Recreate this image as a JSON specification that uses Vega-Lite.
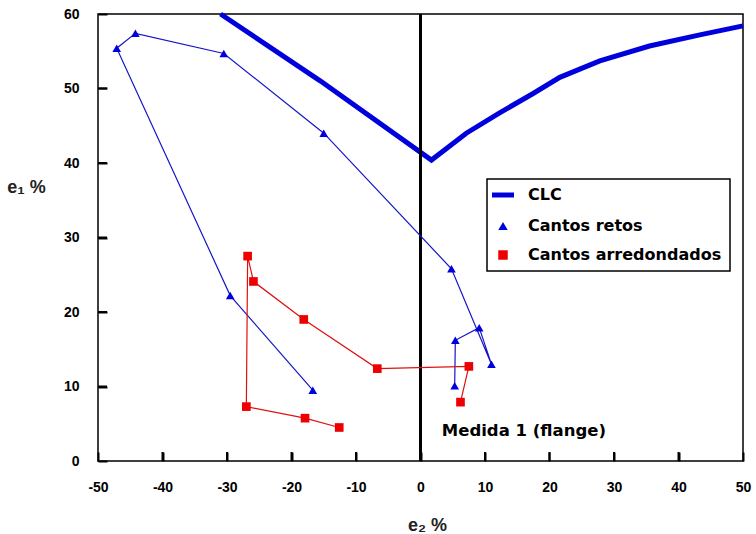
{
  "$schema": "https://vega.github.io/schema/vega-lite/v6.json",
  "width": 645,
  "height": 447,
  "autosize": "none",
  "padding": {"left": 98, "top": 14, "right": 13, "bottom": 73},
  "background": "white",
  "config": {
    "view": {"stroke": "black", "strokeWidth": 1.5},
    "font": "Liberation Sans",
    "legend": {"strokeWidth": 1.5}
  },
  "data": {
    "values": [
      {"series": "Medida 1", "ord": 1, "x": 0, "y": 0},
      {"series": "Medida 1", "ord": 2, "x": 0, "y": 60},
      {"series": "CLC", "ord": 1, "x": -31, "y": 60},
      {"series": "CLC", "ord": 2, "x": -15.5, "y": 51},
      {"series": "CLC", "ord": 3, "x": 1.7, "y": 40.4},
      {"series": "CLC", "ord": 4, "x": 7.1, "y": 44.0},
      {"series": "CLC", "ord": 5, "x": 12.2, "y": 46.7},
      {"series": "CLC", "ord": 6, "x": 17.4, "y": 49.3},
      {"series": "CLC", "ord": 7, "x": 21.6, "y": 51.5},
      {"series": "CLC", "ord": 8, "x": 27.8, "y": 53.7},
      {"series": "CLC", "ord": 9, "x": 35.5, "y": 55.7},
      {"series": "CLC", "ord": 10, "x": 43.3, "y": 57.2},
      {"series": "CLC", "ord": 11, "x": 50, "y": 58.4},
      {"series": "Cantos retos", "ord": 1, "x": -16.7, "y": 9.5},
      {"series": "Cantos retos", "ord": 2, "x": -29.5, "y": 22.2},
      {"series": "Cantos retos", "ord": 3, "x": -47.1, "y": 55.4},
      {"series": "Cantos retos", "ord": 4, "x": -44.2, "y": 57.4},
      {"series": "Cantos retos", "ord": 5, "x": -30.5, "y": 54.7},
      {"series": "Cantos retos", "ord": 6, "x": -15.0, "y": 44.0},
      {"series": "Cantos retos", "ord": 7, "x": 4.8, "y": 25.8},
      {"series": "Cantos retos", "ord": 8, "x": 11.0, "y": 13.0},
      {"series": "Cantos retos", "ord": 9, "x": 9.1, "y": 17.9},
      {"series": "Cantos retos", "ord": 10, "x": 5.4, "y": 16.2},
      {"series": "Cantos retos", "ord": 11, "x": 5.3, "y": 10.1},
      {"series": "Cantos arredondados", "ord": 1, "x": -12.6, "y": 4.5},
      {"series": "Cantos arredondados", "ord": 2, "x": -17.9, "y": 5.75},
      {"series": "Cantos arredondados", "ord": 3, "x": -27.0, "y": 7.3},
      {"series": "Cantos arredondados", "ord": 4, "x": -26.8, "y": 27.5},
      {"series": "Cantos arredondados", "ord": 5, "x": -25.9, "y": 24.1},
      {"series": "Cantos arredondados", "ord": 6, "x": -18.1, "y": 19.0},
      {"series": "Cantos arredondados", "ord": 7, "x": -6.7, "y": 12.4},
      {"series": "Cantos arredondados", "ord": 8, "x": 7.5, "y": 12.7},
      {"series": "Cantos arredondados", "ord": 9, "x": 6.2, "y": 7.9}
    ]
  },
  "encoding": {
    "x": {
      "field": "x",
      "type": "quantitative",
      "scale": {"domain": [-50, 50], "nice": false},
      "axis": {
        "values": [-50, -40, -30, -20, -10, 0, 10, 20, 30, 40, 50],
        "labelExpr": "replace(datum.label, '−', '-')",
        "title": "e₂ %",
        "grid": false,
        "domain": false,
        "zindex": 2,
        "offset": -9,
        "tickSize": 9,
        "tickColor": "#000000",
        "tickWidth": 2,
        "labelPadding": 19,
        "labelFlush": false,
        "labelOverlap": false,
        "labelFont": "Liberation Sans",
        "labelFontWeight": "bold",
        "labelFontSize": 14,
        "labelColor": "black",
        "titleFont": "Liberation Sans",
        "titleFontSize": 18,
        "titleFontWeight": "bold",
        "titleColor": "#222222",
        "titleX": 329,
        "titleY": 78,
        "titleBaseline": "alphabetic"
      }
    },
    "y": {
      "field": "y",
      "type": "quantitative",
      "scale": {"domain": [0, 60], "nice": false},
      "axis": {
        "values": [0, 10, 20, 30, 40, 50, 60],
        "title": "e₁ %",
        "grid": false,
        "domain": false,
        "zindex": 2,
        "offset": -9,
        "tickSize": 9,
        "tickColor": "#000000",
        "tickWidth": 2,
        "labelPadding": 19,
        "labelFlush": false,
        "labelOverlap": false,
        "labelFont": "Liberation Sans",
        "labelFontWeight": "bold",
        "labelFontSize": 14,
        "labelColor": "black",
        "titleFont": "Liberation Sans",
        "titleFontSize": 18,
        "titleFontWeight": "bold",
        "titleColor": "#222222",
        "titleAngle": 0,
        "titleAlign": "center",
        "titleBaseline": "middle",
        "titleX": -81,
        "titleY": 173
      }
    }
  },
  "layer": [
    {
      "data": {"values": [
        {"x": -40, "y": 0}, {"x": -30, "y": 0}, {"x": -20, "y": 0}, {"x": -10, "y": 0},
        {"x": 10, "y": 0}, {"x": 20, "y": 0}, {"x": 30, "y": 0}, {"x": 40, "y": 0}
      ]},
      "mark": {"type": "tick", "orient": "vertical", "color": "#000000", "opacity": 1, "size": 9, "thickness": 2, "yOffset": -4.5}
    },
    {
      "data": {"values": [
        {"x": -50, "y": 10}, {"x": -50, "y": 20}, {"x": -50, "y": 30}, {"x": -50, "y": 40}, {"x": -50, "y": 50}
      ]},
      "mark": {"type": "tick", "orient": "horizontal", "color": "#000000", "opacity": 1, "size": 9, "thickness": 2, "xOffset": 4.5}
    },
    {
      "transform": [{"filter": "datum.series === 'CLC'"}],
      "mark": {"type": "line", "color": "#0000dd", "strokeWidth": 5, "strokeJoin": "miter"},
      "encoding": {"order": {"field": "ord", "type": "quantitative"}}
    },
    {
      "transform": [{"filter": "datum.series === 'Medida 1'"}],
      "mark": {"type": "line", "color": "#000000", "strokeWidth": 3},
      "encoding": {"order": {"field": "ord", "type": "quantitative"}}
    },
    {
      "transform": [{"filter": "datum.series === 'Cantos retos'"}],
      "mark": {"type": "line", "color": "#1515c8", "strokeWidth": 1.2},
      "encoding": {"order": {"field": "ord", "type": "quantitative"}}
    },
    {
      "transform": [{"filter": "datum.series === 'Cantos arredondados'"}],
      "mark": {"type": "line", "color": "#dd1111", "strokeWidth": 1.2},
      "encoding": {"order": {"field": "ord", "type": "quantitative"}}
    },
    {
      "transform": [{"filter": "datum.series === 'Cantos retos' || datum.series === 'Cantos arredondados'"}],
      "mark": {"type": "point", "filled": true, "opacity": 1, "size": 75},
      "encoding": {
        "color": {
          "field": "series",
          "type": "nominal",
          "scale": {
            "domain": ["CLC", "Cantos retos", "Cantos arredondados"],
            "range": ["#0000dd", "#0000dd", "#ee0000"]
          },
          "legend": {
            "orient": "none",
            "legendX": 389,
            "legendY": 165,
            "title": null,
            "strokeColor": "black",
            "fillColor": "white",
            "padding": 8,
            "rowPadding": 13,
            "symbolSize": 484,
            "labelOffset": 17,
            "labelFont": "DejaVu Sans",
            "labelFontWeight": "bold",
            "labelFontSize": 16,
            "labelColor": "black",
            "labelLimit": 300,
            "encoding": {
              "symbols": {
                "stroke": {"value": "#0000dd"},
                "strokeWidth": {"value": {"expr": "datum.value === 'CLC' ? 5 : 0"}},
                "size": {"value": {"expr": "datum.value === 'CLC' ? 484 : 90"}}
              }
            }
          }
        },
        "shape": {
          "field": "series",
          "type": "nominal",
          "scale": {
            "domain": ["CLC", "Cantos retos", "Cantos arredondados"],
            "range": ["stroke", "triangle-up", "square"]
          }
        }
      }
    },
    {
      "data": {"values": [{"label": "Medida 1 (flange)", "x": 3.3, "y": 4.0}]},
      "mark": {"type": "text", "align": "left", "baseline": "middle", "font": "DejaVu Sans", "fontWeight": "bold", "fontSize": 16.5, "color": "black"},
      "encoding": {"text": {"field": "label"}}
    }
  ]
}
